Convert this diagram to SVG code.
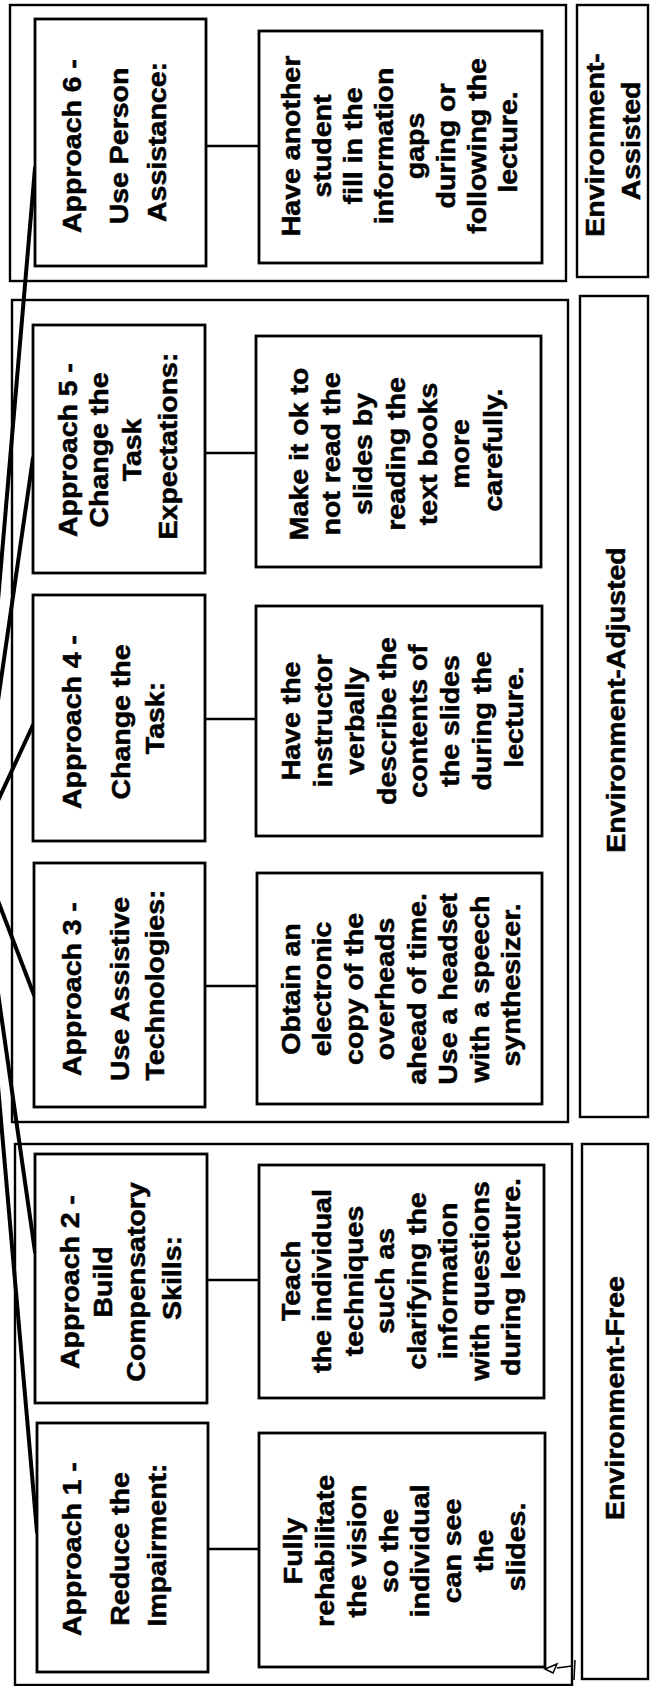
<svg xmlns="http://www.w3.org/2000/svg" width="650" height="1686" viewBox="0 0 650 1686">
  <style>
    .grp { fill: none; stroke: #000; stroke-width: 2.4; }
    .box { fill: #fff; stroke: #000; stroke-width: 2.8; }
    .lbl { fill: #fff; stroke: #000; stroke-width: 2.4; }
    .link { stroke: #000; stroke-width: 2.4; }
    .fan { stroke: #000; stroke-width: 4; stroke-linecap: round; fill: none; }
    text { font-family: "Liberation Sans", Arial, Helvetica, sans-serif; font-weight: bold; font-size: 25px; text-anchor: middle; fill: #000; stroke: #000; stroke-width: 0.5; }
  </style>
  <rect width="650" height="1686" fill="#fff"/>

  <!-- category frames -->
  <g id="group-assisted"><rect class="grp" x="10" y="5" width="556" height="276"/></g>
  <g id="group-adjusted"><rect class="grp" x="12" y="300" width="556" height="822"/></g>
  <g id="group-free"><rect class="grp" x="15" y="1144" width="557" height="541"/></g>

  <!-- connectors: fan from the off-page parent plus approach-to-example links -->
  <g id="connectors">
    <line class="fan" x1="-23" y1="846" x2="35" y2="168"/>
    <line class="fan" x1="-23" y1="846" x2="33" y2="458"/>
    <line class="fan" x1="-23" y1="846" x2="33" y2="725"/>
    <line class="fan" x1="-23" y1="846" x2="34" y2="995"/>
    <line class="fan" x1="-23" y1="846" x2="35" y2="1252"/>
    <line class="fan" x1="-23" y1="846" x2="37" y2="1532"/>
    <line class="link" x1="206" y1="146" x2="259" y2="146"/>
    <line class="link" x1="205" y1="453" x2="256" y2="453"/>
    <line class="link" x1="205" y1="719" x2="256" y2="719"/>
    <line class="link" x1="205" y1="986" x2="257" y2="986"/>
    <line class="link" x1="207" y1="1280" x2="259" y2="1280"/>
    <line class="link" x1="208" y1="1549" x2="259" y2="1549"/>
  </g>

  <!-- Approach 6 -->
  <g id="approach6">
    <rect class="box" x="35" y="19" width="171" height="247"/>
    <text transform="translate(0,142) rotate(-90) scale(1.14,1)">
      <tspan x="0" y="81">Approach 6 -</tspan>
      <tspan x="0" y="128">Use Person</tspan>
      <tspan x="0" y="166">Assistance:</tspan>
    </text>
  </g>
  <g id="example6">
    <rect class="box" x="259" y="31" width="283" height="232"/>
    <text transform="translate(0,142) rotate(-90) scale(1.14,1)">
      <tspan x="0" y="300">Have another</tspan>
      <tspan x="0" y="331">student</tspan>
      <tspan x="0" y="362">fill in the</tspan>
      <tspan x="0" y="393">information</tspan>
      <tspan x="0" y="424">gaps</tspan>
      <tspan x="0" y="455">during or</tspan>
      <tspan x="0" y="486">following the</tspan>
      <tspan x="0" y="517">lecture.</tspan>
    </text>
  </g>

  <!-- Approach 5 -->
  <g id="approach5">
    <rect class="box" x="33" y="325" width="172" height="248"/>
    <text transform="translate(0,446) rotate(-90) scale(1.14,1)">
      <tspan x="0" y="77">Approach 5 -</tspan>
      <tspan x="0" y="108">Change the</tspan>
      <tspan x="0" y="141">Task</tspan>
      <tspan x="0" y="177">Expectations:</tspan>
    </text>
  </g>
  <g id="example5">
    <rect class="box" x="256" y="336" width="285" height="231"/>
    <text transform="translate(0,450) rotate(-90) scale(1.14,1)">
      <tspan x="0" y="308">Make it ok to</tspan>
      <tspan x="0" y="340">not read the</tspan>
      <tspan x="0" y="372">slides by</tspan>
      <tspan x="0" y="405">reading the</tspan>
      <tspan x="0" y="437">text books</tspan>
      <tspan x="0" y="469">more</tspan>
      <tspan x="0" y="502">carefully.</tspan>
    </text>
  </g>

  <!-- Approach 4 -->
  <g id="approach4">
    <rect class="box" x="33" y="595" width="172" height="246"/>
    <text transform="translate(0,718) rotate(-90) scale(1.14,1)">
      <tspan x="0" y="81">Approach 4 -</tspan>
      <tspan x="0" y="130">Change the</tspan>
      <tspan x="0" y="164">Task:</tspan>
    </text>
  </g>
  <g id="example4">
    <rect class="box" x="256" y="606" width="286" height="230"/>
    <text transform="translate(0,717) rotate(-90) scale(1.14,1)">
      <tspan x="0" y="300">Have the</tspan>
      <tspan x="0" y="332">instructor</tspan>
      <tspan x="0" y="364">verbally</tspan>
      <tspan x="0" y="396">describe the</tspan>
      <tspan x="0" y="427">contents of</tspan>
      <tspan x="0" y="459">the slides</tspan>
      <tspan x="0" y="491">during the</tspan>
      <tspan x="0" y="523">lecture.</tspan>
    </text>
  </g>

  <!-- Approach 3 -->
  <g id="approach3">
    <rect class="box" x="34" y="863" width="171" height="244"/>
    <text transform="translate(0,985) rotate(-90) scale(1.14,1)">
      <tspan x="0" y="81">Approach 3 -</tspan>
      <tspan x="0" y="129">Use Assistive</tspan>
      <tspan x="0" y="164">Technologies:</tspan>
    </text>
  </g>
  <g id="example3">
    <rect class="box" x="257" y="873" width="285" height="231"/>
    <text transform="translate(0,985) rotate(-90) scale(1.14,1)">
      <tspan x="0" y="300">Obtain an</tspan>
      <tspan x="0" y="331">electronic</tspan>
      <tspan x="0" y="363">copy of the</tspan>
      <tspan x="0" y="394">overheads</tspan>
      <tspan x="0" y="426">ahead of time.</tspan>
      <tspan x="0" y="457">Use a headset</tspan>
      <tspan x="0" y="489">with a speech</tspan>
      <tspan x="0" y="520">synthesizer.</tspan>
    </text>
  </g>

  <!-- Approach 2 -->
  <g id="approach2">
    <rect class="box" x="35" y="1154" width="172" height="249"/>
    <text transform="translate(0,1278) rotate(-90) scale(1.14,1)">
      <tspan x="0" y="79">Approach 2 -</tspan>
      <tspan x="0" y="112">Build</tspan>
      <tspan x="0" y="145">Compensatory</tspan>
      <tspan x="0" y="181">Skills:</tspan>
    </text>
  </g>
  <g id="example2">
    <rect class="box" x="259" y="1165" width="285" height="233"/>
    <text transform="translate(0,1277) rotate(-90) scale(1.14,1)">
      <tspan x="0" y="300">Teach</tspan>
      <tspan x="0" y="331">the individual</tspan>
      <tspan x="0" y="363">techniques</tspan>
      <tspan x="0" y="394">such as</tspan>
      <tspan x="0" y="426">clarifying the</tspan>
      <tspan x="0" y="457">information</tspan>
      <tspan x="0" y="489">with questions</tspan>
      <tspan x="0" y="520">during lecture.</tspan>
    </text>
  </g>

  <!-- Approach 1 -->
  <g id="approach1">
    <rect class="box" x="37" y="1423" width="171" height="249"/>
    <text transform="translate(0,1545) rotate(-90) scale(1.14,1)">
      <tspan x="0" y="81">Approach 1 -</tspan>
      <tspan x="0" y="129">Reduce the</tspan>
      <tspan x="0" y="166">Impairment:</tspan>
    </text>
  </g>
  <g id="example1">
    <rect class="box" x="259" y="1433" width="286" height="234"/>
    <text transform="translate(0,1547) rotate(-90) scale(1.14,1)">
      <tspan x="0" y="302">Fully</tspan>
      <tspan x="0" y="334">rehabilitate</tspan>
      <tspan x="0" y="366">the vision</tspan>
      <tspan x="0" y="398">so the</tspan>
      <tspan x="0" y="429">individual</tspan>
      <tspan x="0" y="461">can see</tspan>
      <tspan x="0" y="493">the</tspan>
      <tspan x="0" y="525">slides.</tspan>
    </text>
  </g>

  <!-- category labels -->
  <g id="label-assisted">
    <rect class="lbl" x="577" y="5" width="71" height="272"/>
    <text transform="translate(0,141) rotate(-90) scale(1.14,1)">
      <tspan x="0" y="604">Environment-</tspan>
      <tspan x="0" y="640">Assisted</tspan>
    </text>
  </g>
  <g id="label-adjusted">
    <rect class="lbl" x="580" y="296" width="68" height="821"/>
    <text transform="translate(0,700) rotate(-90) scale(1.14,1)">
      <tspan x="0" y="625">Environment-Adjusted</tspan>
    </text>
  </g>
  <g id="label-free">
    <rect class="lbl" x="582" y="1144" width="66" height="535"/>
    <text transform="translate(0,1398) rotate(-90) scale(1.14,1)">
      <tspan x="0" y="624">Environment-Free</tspan>
    </text>
  </g>

  <!-- small pen mark in the lower frame corner -->
  <path d="M545,1669 L557,1664 L553,1673 Z M557,1668 L572,1666 M575,1660 L574,1680" fill="none" stroke="#000" stroke-width="1.5"/>
</svg>
